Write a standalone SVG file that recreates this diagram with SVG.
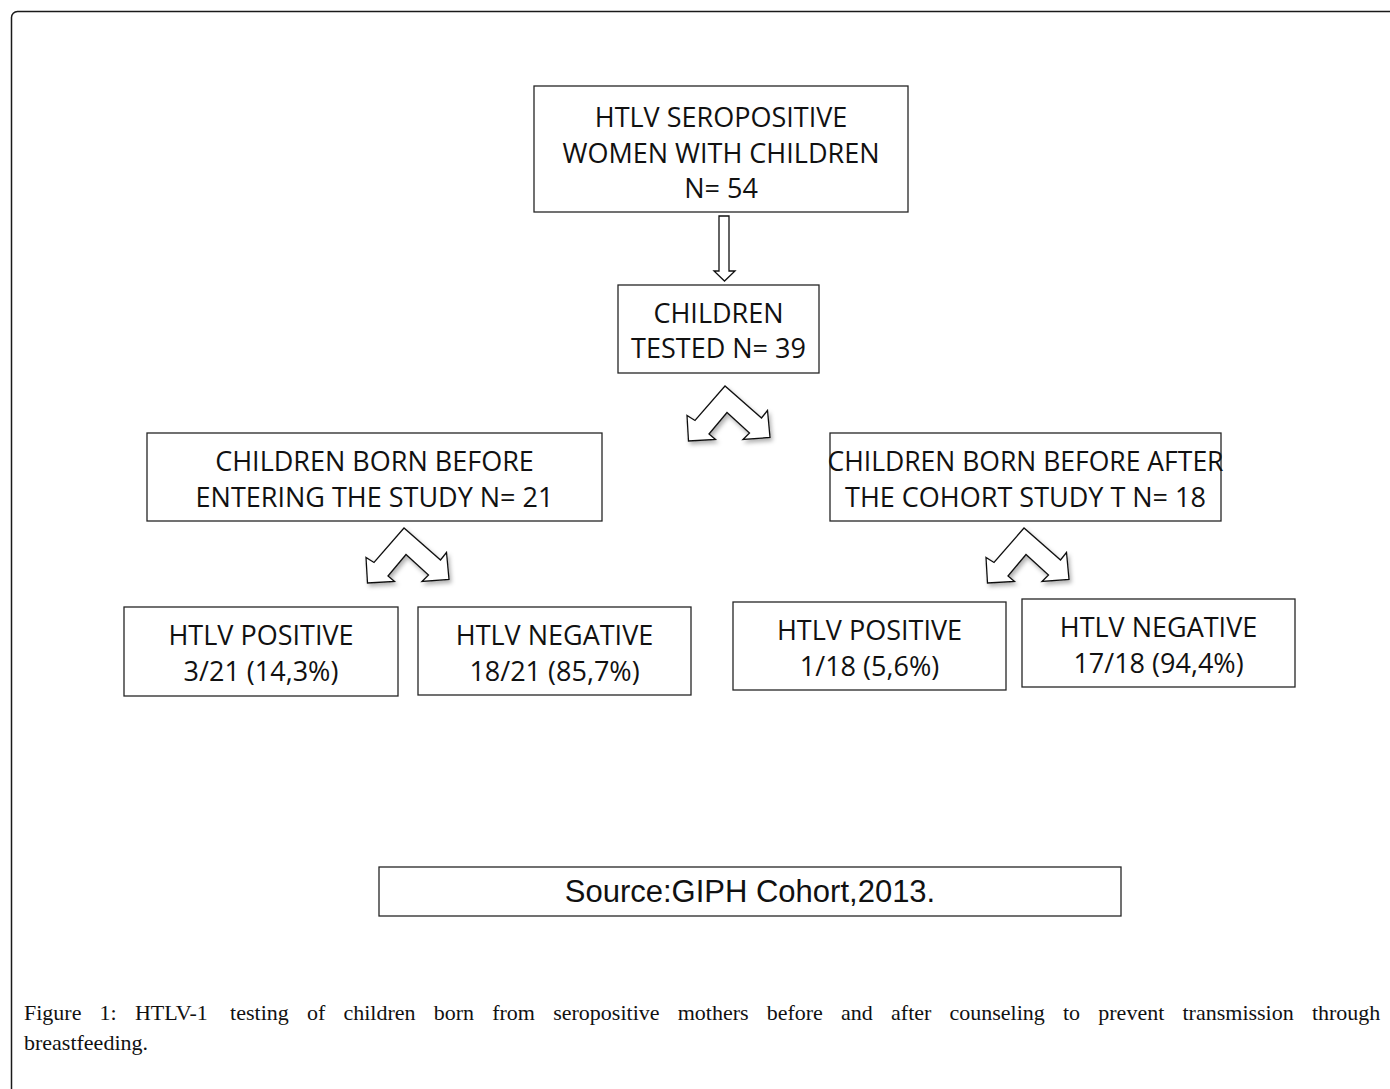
<svg xmlns="http://www.w3.org/2000/svg" width="1390" height="1089" viewBox="0 0 1390 1089">
<style>
.box{fill:#fff;stroke:#262626;stroke-width:1.3}
.t{font-family:"Open Sans","Noto Sans",sans-serif;font-size:27px;fill:#111;text-anchor:middle}
.src{font-family:"Liberation Sans",Arial,sans-serif;font-size:31px;fill:#111;text-anchor:middle}
.cap{font-family:"Liberation Serif","Times New Roman",serif;font-size:22px;fill:#111}
.arr{fill:#fff;stroke:#111;stroke-width:1.3;stroke-linejoin:miter}
</style>
<defs>
<filter id="sh" x="-30%" y="-30%" width="160%" height="160%">
<feDropShadow dx="2" dy="3" stdDeviation="2" flood-color="#000" flood-opacity="0.3"/>
</filter>
<path id="split" d="M0,0 L-30,34.5 L-38,29.5 L-36.5,55 L-9.5,53.5 L-16,48 L2,26.5 L24.5,47 L18,53.5 L45,51.5 L42.5,24.5 L36.5,32 Z"/>
</defs>
<rect width="1390" height="1089" fill="#fff"/>
<rect x="11.5" y="11.5" width="1420" height="1120" rx="6" fill="none" stroke="#1a1a1a" stroke-width="1.5"/>

<g id="connectors">
<path class="arr" d="M719,216 L729,216 L729,271 L735,271 L724.5,281 L714,271 L719,271 Z"/>
<use href="#split" x="725" y="386" class="arr" filter="url(#sh)"/>
<use href="#split" x="404" y="528" class="arr" filter="url(#sh)"/>
<use href="#split" x="1024" y="528" class="arr" filter="url(#sh)"/>
</g>

<g id="n-women">
<rect class="box" x="534" y="86" width="374" height="126"/>
<text class="t" x="721" y="127">HTLV SEROPOSITIVE</text>
<text class="t" x="721" y="162.5">WOMEN WITH CHILDREN</text>
<text class="t" x="721" y="198">N= 54</text>
</g>

<g id="n-tested">
<rect class="box" x="618" y="285" width="201" height="88"/>
<text class="t" x="718.5" y="322.5">CHILDREN</text>
<text class="t" x="718.5" y="358">TESTED N= 39</text>
</g>

<g id="n-before">
<rect class="box" x="147" y="433" width="455" height="88"/>
<text class="t" x="374.5" y="470.5">CHILDREN BORN BEFORE</text>
<text class="t" x="374.5" y="506.5">ENTERING THE STUDY N= 21</text>
</g>

<g id="n-after">
<rect class="box" x="830" y="433" width="391" height="88"/>
<text class="t" x="1025.5" y="470.5" textLength="396" lengthAdjust="spacingAndGlyphs">CHILDREN BORN BEFORE AFTER</text>
<text class="t" x="1025.5" y="506.5">THE COHORT STUDY T N= 18</text>
</g>

<g id="n-left-pos">
<rect class="box" x="124" y="607" width="274" height="89"/>
<text class="t" x="261" y="645">HTLV POSITIVE</text>
<text class="t" x="261" y="681">3/21 (14,3%)</text>
</g>

<g id="n-left-neg">
<rect class="box" x="418" y="607" width="273" height="88"/>
<text class="t" x="554.5" y="645">HTLV NEGATIVE</text>
<text class="t" x="554.5" y="681">18/21 (85,7%)</text>
</g>

<g id="n-right-pos">
<rect class="box" x="733" y="602" width="273" height="88"/>
<text class="t" x="869.5" y="640">HTLV POSITIVE</text>
<text class="t" x="869.5" y="676">1/18 (5,6%)</text>
</g>

<g id="n-right-neg">
<rect class="box" x="1022" y="599" width="273" height="88"/>
<text class="t" x="1158.5" y="637">HTLV NEGATIVE</text>
<text class="t" x="1158.5" y="673">17/18 (94,4%)</text>
</g>

<g id="n-source">
<rect class="box" x="379" y="867" width="742" height="49"/>
<text class="src" x="750" y="902">Source:GIPH Cohort,2013.</text>
</g>

<g id="caption">
<text class="cap" y="1020"><tspan x="24">Figure</tspan><tspan x="99.6">1:</tspan><tspan x="134.9">HTLV-1</tspan><tspan x="230.1">testing</tspan><tspan x="306.9">of</tspan><tspan x="343.4">children</tspan><tspan x="433.7">born</tspan><tspan x="492.2">from</tspan><tspan x="553.2">seropositive</tspan><tspan x="677.7">mothers</tspan><tspan x="766.7">before</tspan><tspan x="841.1">and</tspan><tspan x="891.1">after</tspan><tspan x="949.5">counseling</tspan><tspan x="1063">to</tspan><tspan x="1098.3">prevent</tspan><tspan x="1182.5">transmission</tspan><tspan x="1311.9">through</tspan></text>
<text class="cap" x="24" y="1050">breastfeeding.</text>
</g>
</svg>
